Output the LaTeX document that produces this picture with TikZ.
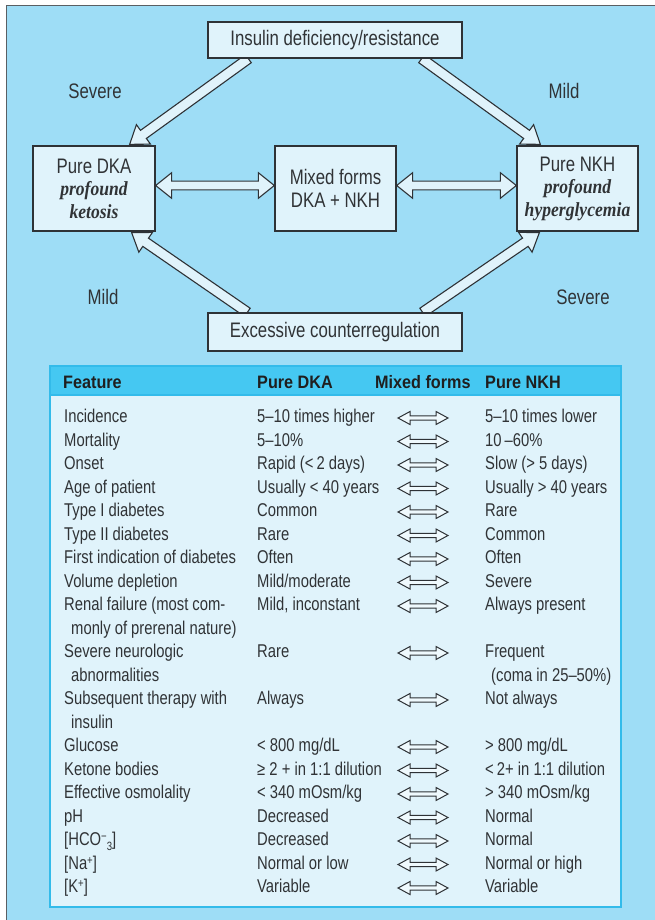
\documentclass[tikz,border=0pt]{standalone}
\usepackage{fontspec}
\setmainfont{Liberation Sans}[FakeStretch=0.8]
\newfontfamily\headfont{Liberation Sans}[FakeStretch=0.9]
\newfontfamily\emfont{Liberation Serif}[FakeStretch=0.88]
\usetikzlibrary{calc}
\pgfdeclarelayer{back}
\pgfsetlayers{back,main}

\definecolor{panel}{HTML}{9EDDF6}
\definecolor{boxfill}{HTML}{E0F3FB}
\definecolor{boxline}{HTML}{2E3236}
\definecolor{framegray}{HTML}{5A5F63}
\definecolor{tabhead}{HTML}{45C8F2}
\definecolor{tabline}{HTML}{33BBEA}
\definecolor{ink}{HTML}{303336}

\newcommand{\diagsize}{\fontsize{21}{22.5}\selectfont}
\newcommand{\tabsize}{\fontsize{18.5}{23.5}\selectfont}
\newcommand{\boldital}[1]{{\emfont\bfseries\itshape\fontsize{20}{22.5}\selectfont #1}}

% single fat arrow: tail, tip, half shaft, half head, head length
\newcommand{\drawsinglearrow}[6][fatarrow]{%
  \coordinate (hb) at ($(#3)!#6!(#2)$);
  \draw[#1] ($(#2)!#4!90:(#3)$) -- ($(hb)!#4!90:(#3)$) -- ($(hb)!#5!90:(#3)$)
    -- (#3) -- ($(hb)!#5!-90:(#3)$) -- ($(hb)!#4!-90:(#3)$)
    -- ($(#2)!#4!-90:(#3)$) -- cycle;
}
% double-headed fat arrow: end, end, half shaft, half head, head length
\newcommand{\drawdoublearrow}[6][fatarrow]{%
  \coordinate (ha) at ($(#2)!#6!(#3)$);
  \coordinate (hb) at ($(#3)!#6!(#2)$);
  \draw[#1] (#2) -- ($(ha)!#5!90:(#3)$) -- ($(ha)!#4!90:(#3)$)
    -- ($(hb)!#4!90:(#3)$) -- ($(hb)!#5!90:(#3)$) -- (#3)
    -- ($(hb)!#5!-90:(#3)$) -- ($(hb)!#4!-90:(#3)$)
    -- ($(ha)!#4!-90:(#3)$) -- ($(ha)!#5!-90:(#3)$) -- cycle;
}

% table cells placed by line number
\newcommand{\tabcell}[4]{% name, x, line, text
  \node[cell] (#1) at (#2, {422.5+23.5*#3}) {#4};
}
\newcommand{\tabarrow}[1]{%
  \coordinate (tl#1) at (398, {418+23.5*#1});
  \coordinate (tr#1) at (448, {418+23.5*#1});
  \drawdoublearrow[smallarrow]{tl#1}{tr#1}{2.2pt}{6.5pt}{12pt}
}

\begin{document}
\begin{tikzpicture}[x=1pt, y=-1pt,
  box/.style={draw=boxline, line width=1.3pt, fill=boxfill, text=ink,
    font=\diagsize, align=center, inner sep=0pt},
  label/.style={text=ink, font=\diagsize, inner sep=0pt},
  fatarrow/.style={draw=boxline, line width=1.1pt, fill=boxfill, line join=miter},
  smallarrow/.style={draw=boxline, line width=1pt, fill=boxfill!50!white, line join=miter},
  cell/.style={anchor=base west, inner sep=0pt, text=ink, font=\tabsize},
  headcell/.style={anchor=base west, inner sep=0pt, text=black!88,
    font=\headfont\bfseries\fontsize{18}{20}\selectfont}]

\useasboundingbox (0,0) rectangle (655,920);

\begin{pgfonlayer}{back}
  \fill[white] (0,0) rectangle (655,920);
  \fill[panel] (6,5) rectangle (655,920);
  \draw[framegray, line width=1.6pt] (6.5,925) -- (6.5,5.5) -- (660,5.5);
\end{pgfonlayer}

% ---- flow diagram ----
\node[box, minimum width=254pt, minimum height=36pt] (top) at (335,40)
  {Insulin deficiency/resistance};
\node[box, minimum width=122pt, minimum height=85pt] (dka) at (94,188.5)
  {Pure DKA\\\boldital{profound}\\\boldital{ketosis}};
\node[box, minimum width=121pt, minimum height=85pt] (mixed) at (335.5,188.5)
  {Mixed forms\\DKA + NKH};
\node[box, minimum width=121pt, minimum height=85pt] (nkh) at (577.5,188.5)
  {Pure NKH\\\boldital{profound}\\\boldital{hyperglycemia}};
\node[box, minimum width=254pt, minimum height=38pt] (bot) at (335,332)
  {Excessive counterregulation};

\node[label] (l-sev1) at (95,91) {Severe};
\node[label] (l-mild1) at (564,91) {Mild};
\node[label] (l-mild2) at (103,297) {Mild};
\node[label] (l-sev2) at (583,297) {Severe};

\coordinate (ul-tail) at ($(top.south west)+(41,0)$);
\coordinate (ul-tip)  at ($(dka.north east)+(-26,-1)$);
\coordinate (ur-tail) at ($(top.south east)+(-41,0)$);
\coordinate (ur-tip)  at ($(nkh.north west)+(24,-1)$);
\coordinate (ll-tail) at ($(bot.north west)+(40,0)$);
\coordinate (ll-tip)  at ($(dka.south east)+(-24,1)$);
\coordinate (lr-tail) at ($(bot.north east)+(-40,0)$);
\coordinate (lr-tip)  at ($(nkh.south west)+(23,1)$);
\coordinate (dm-a) at ($(dka.east)+(0,-3)$);
\coordinate (dm-b) at ($(mixed.west)+(0,-3)$);
\coordinate (mn-a) at ($(mixed.east)+(0,-3)$);
\coordinate (mn-b) at ($(nkh.west)+(0,-3)$);

\begin{pgfonlayer}{back}
  \drawsinglearrow{ul-tail}{ul-tip}{5pt}{12pt}{17pt}
  \drawsinglearrow{ur-tail}{ur-tip}{5pt}{12pt}{17pt}
  \drawsinglearrow{ll-tail}{ll-tip}{5pt}{12pt}{17pt}
  \drawsinglearrow{lr-tail}{lr-tip}{5pt}{12pt}{17pt}
\end{pgfonlayer}
\drawdoublearrow{dm-a}{dm-b}{4.3pt}{12.8pt}{16pt}
\drawdoublearrow{mn-a}{mn-b}{4.3pt}{12.8pt}{16pt}

% ---- comparison table ----
\fill[boxfill] (50,366) rectangle (621,907);
\fill[tabhead] (50,366) rectangle (621,395);
\draw[tabline, line width=1.2pt] (50,395) -- (621,395);
\draw[tabline, line width=1.6pt] (50,366) rectangle (621,907);

\node[headcell] (h-feat) at (63,388) {Feature};
\node[headcell] (h-dka) at (257,388) {Pure DKA};
\node[headcell] (h-mix) at (375,388) {Mixed forms};
\node[headcell] (h-nkh) at (485,388) {Pure NKH};

\tabcell{f0}{64}{0}{Incidence}
\tabcell{d0}{257}{0}{5–10 times higher}
\tabcell{n0}{485}{0}{5–10 times lower}
\tabcell{f1}{64}{1}{Mortality}
\tabcell{d1}{257}{1}{5–10\%}
\tabcell{n1}{485}{1}{10\,–60\%}
\tabcell{f2}{64}{2}{Onset}
\tabcell{d2}{257}{2}{Rapid (<\,2 days)}
\tabcell{n2}{485}{2}{Slow (> 5 days)}
\tabcell{f3}{64}{3}{Age of patient}
\tabcell{d3}{257}{3}{Usually < 40 years}
\tabcell{n3}{485}{3}{Usually > 40 years}
\tabcell{f4}{64}{4}{Type I diabetes}
\tabcell{d4}{257}{4}{Common}
\tabcell{n4}{485}{4}{Rare}
\tabcell{f5}{64}{5}{Type II diabetes}
\tabcell{d5}{257}{5}{Rare}
\tabcell{n5}{485}{5}{Common}
\tabcell{f6}{64}{6}{First indication of diabetes}
\tabcell{d6}{257}{6}{Often}
\tabcell{n6}{485}{6}{Often}
\tabcell{f7}{64}{7}{Volume depletion}
\tabcell{d7}{257}{7}{Mild/moderate}
\tabcell{n7}{485}{7}{Severe}
\tabcell{f8}{64}{8}{Renal failure (most com-}
\tabcell{d8}{257}{8}{Mild, inconstant}
\tabcell{n8}{485}{8}{Always present}
\tabcell{f9}{71}{9}{monly of prerenal nature)}
\tabcell{f10}{64}{10}{Severe neurologic}
\tabcell{d10}{257}{10}{Rare}
\tabcell{n10}{485}{10}{Frequent}
\tabcell{f11}{71}{11}{abnormalities}
\tabcell{n11}{491}{11}{(coma in 25–50\%)}
\tabcell{f12}{64}{12}{Subsequent therapy with}
\tabcell{d12}{257}{12}{Always}
\tabcell{n12}{485}{12}{Not always}
\tabcell{f13}{71}{13}{insulin}
\tabcell{f14}{64}{14}{Glucose}
\tabcell{d14}{257}{14}{< 800 mg/dL}
\tabcell{n14}{485}{14}{> 800 mg/dL}
\tabcell{f15}{64}{15}{Ketone bodies}
\tabcell{d15}{257}{15}{≥ 2 + in 1:1 dilution}
\tabcell{n15}{485}{15}{<\,2+ in 1:1 dilution}
\tabcell{f16}{64}{16}{Effective osmolality}
\tabcell{d16}{257}{16}{< 340 mOsm/kg}
\tabcell{n16}{485}{16}{> 340 mOsm/kg}
\tabcell{f17}{64}{17}{pH}
\tabcell{d17}{257}{17}{Decreased}
\tabcell{n17}{485}{17}{Normal}
\tabcell{f18}{64}{18}{[HCO\raisebox{5pt}{\fontsize{12}{12}\selectfont −}\raisebox{-5pt}{\fontsize{12}{12}\selectfont 3}]}
\tabcell{d18}{257}{18}{Decreased}
\tabcell{n18}{485}{18}{Normal}
\tabcell{f19}{64}{19}{[Na\raisebox{5pt}{\fontsize{12}{12}\selectfont +}]}
\tabcell{d19}{257}{19}{Normal or low}
\tabcell{n19}{485}{19}{Normal or high}
\tabcell{f20}{64}{20}{[K\raisebox{5pt}{\fontsize{12}{12}\selectfont +}]}
\tabcell{d20}{257}{20}{Variable}
\tabcell{n20}{485}{20}{Variable}

\foreach \i in {0,...,8,10,12,14,15,16,17,18,19,20} {\tabarrow{\i}}

\end{tikzpicture}
\end{document}
